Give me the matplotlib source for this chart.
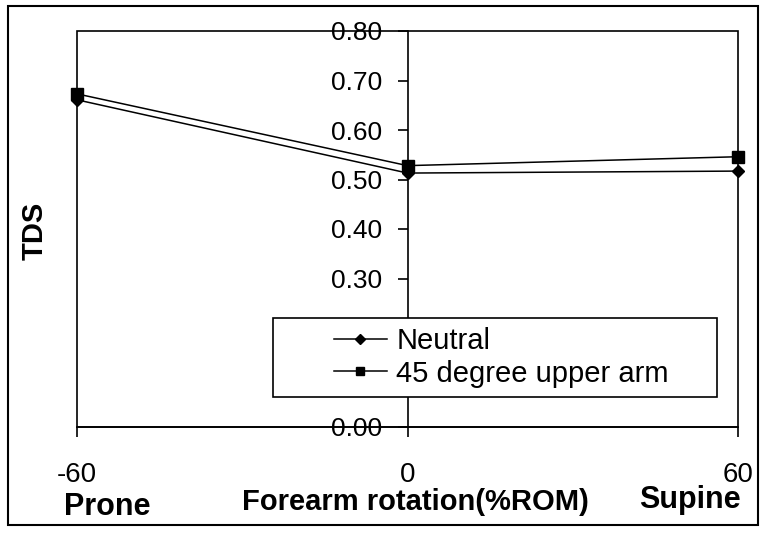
import numpy as np
import matplotlib
matplotlib.use("Agg")
from matplotlib import pyplot as plt
from matplotlib.patches import Rectangle

plt.rcParams['font.family'] = ['Liberation Sans', 'DejaVu Sans']

# forearm rotation (%ROM), -60 = prone, 60 = supine
rotation = [-60, 0, 60]
neutral = [0.661, 0.513, 0.517]
upper45 = [0.673, 0.528, 0.546]
series_names = ["Neutral", "45 degree upper arm"]
yticks = [0.0, 0.1, 0.2, 0.3, 0.4, 0.5, 0.6, 0.7, 0.8]

W, H = 762, 533
fig = plt.figure(figsize=(W/100, H/100), dpi=100)
ax = fig.add_axes([77/W, 1-427/H, (738-77)/W, (427-31)/H])

ax.plot(rotation, neutral, color='black', lw=1.1, marker='D', ms=6.5,
        clip_on=False, zorder=3, label=series_names[0])
ax.plot(rotation, upper45, color='black', lw=1.1, marker='s', ms=8,
        clip_on=False, zorder=3, label=series_names[1])

ax.set_xlim(-60, 60)
ax.set_ylim(0, 0.8)

# plot area frame
ax.patch.set_edgecolor('black')
ax.patch.set_linewidth(1.2)
ax.spines['top'].set_visible(False)
ax.spines['right'].set_visible(False)
ax.spines['left'].set_position(('data', 0))
ax.spines['left'].set_linewidth(1.2)
ax.spines['bottom'].set_linewidth(1.2)

ax.set_yticks(yticks)
ax.set_yticklabels(["%.2f" % v for v in yticks])
ax.set_xticks(rotation)
ax.set_xticklabels([str(v) for v in rotation])
ax.tick_params(axis='y', direction='out', length=7.2, width=1.2, pad=11, labelsize=19)
ax.tick_params(axis='x', direction='out', length=7.2, width=1.2, pad=18, labelsize=20)

# legend box (white, covers part of axis)
ax.add_patch(Rectangle((0.2965, 0.0758), 0.6715, 0.1995, transform=ax.transAxes,
                       facecolor='white', edgecolor='black', lw=1.2, zorder=4,
                       clip_on=False))
leg = ax.legend(loc='center left', bbox_to_anchor=(0.366, 0.1755), frameon=False,
                fontsize=21, handlelength=1.85, handletextpad=0.3, borderpad=0,
                labelspacing=0.15, markerscale=0.75)
leg.set_zorder(5)

fig.text(107/W, 1-515/H, "Prone", ha='center', va='baseline', fontsize=22, fontweight='bold')
fig.text(415/W, 1-510/H, "Forearm rotation(%ROM)", ha='center', va='baseline',
         fontsize=21, fontweight='bold')
fig.text(690/W, 1-508/H, "Supine", ha='center', va='baseline', fontsize=22, fontweight='bold')
fig.text(35/W, 1-231/H, "TDS", ha='center', va='center', rotation=90,
         fontsize=21, fontweight='bold')

# outer chart border
fig.patches.append(Rectangle((8/W, 8/H), 750/W, 519/H, transform=fig.transFigure,
                             facecolor='none', edgecolor='black', lw=1.5))

fig.savefig('out.png', dpi=100)
